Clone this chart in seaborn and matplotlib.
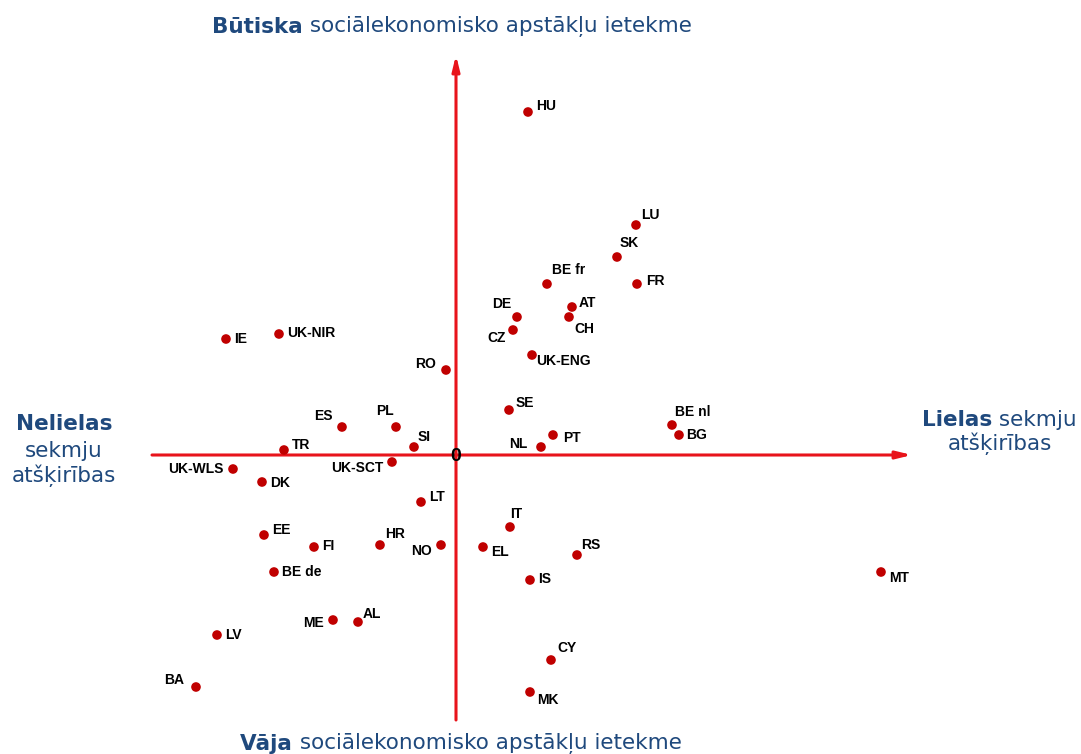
import pandas as pd
import matplotlib.pyplot as plt
import seaborn as sns

# country codes and their position on the two axes
codes = ['HU', 'LU', 'SK', 'BE fr', 'FR', 'AT', 'CH', 'DE', 'CZ', 'UK-ENG',
         'IE', 'UK-NIR', 'RO', 'SE', 'BE nl', 'BG', 'PT', 'NL', 'ES', 'PL',
         'SI', 'TR', 'UK-SCT', 'UK-WLS', 'DK', 'LT', 'IT', 'EE', 'FI', 'HR',
         'NO', 'EL', 'RS', 'IS', 'BE de', 'MT', 'ME', 'AL', 'LV', 'CY',
         'BA', 'MK']
success_gap = [0.72, 1.80, 1.61, 0.91, 1.81, 1.16, 1.13, 0.61, 0.57, 0.76,
               -2.30, -1.77, -0.10, 0.53, 2.16, 2.23, 0.97, 0.85, -1.14, -0.60,
               -0.42, -1.72, -0.64, -2.23, -1.94, -0.35, 0.54, -1.92, -1.42, -0.76,
               -0.15, 0.27, 1.21, 0.74, -1.82, 4.25, -1.23, -0.98, -2.39, 0.95,
               -2.60, 0.74]
ses_impact = [3.43, 2.30, 1.98, 1.71, 1.71, 1.48, 1.38, 1.38, 1.25, 1.00,
              1.16, 1.21, 0.85, 0.45, 0.30, 0.20, 0.20, 0.08, 0.28, 0.28,
              0.08, 0.05, -0.07, -0.14, -0.27, -0.47, -0.72, -0.80, -0.92, -0.90,
              -0.90, -0.92, -1.00, -1.25, -1.17, -1.17, -1.65, -1.67, -1.80, -2.05,
              -2.32, -2.37]

# label placement: offset in pixels from the dot, and alignment
label_dx = [8, 5, 3, 5, 9, 7, 5, -6, -7, 4,
            8, 8, -10, 7, 3, 7, 10, -14, -9, -2,
            4, 8, -9, -10, 8, 8, 0, 8, 8, 5,
            -9, 8, 4, 8, 8, 8, -9, 5, 8, 6,
            -12, 7]
label_dy = [6, 10, 14, 14, 3, 4, -12, 13, -8, -6,
            0, 1, 6, 7, 13, 0, -3, 3, 11, 16,
            10, 5, -6, 0, -1, 5, 13, 5, 1, 11,
            -6, -5, 10, 1, 0, -6, -3, 8, 0, 12,
            7, -8]

df = pd.DataFrame({'code': codes, 'x': success_gap, 'y': ses_impact})

red = '#e8141b'
dot = '#c00000'
blue = '#1f497d'
cap = 15.5

sns.set_style('white')
plt.rcParams['font.family'] = ['DejaVu Sans']

fig = plt.figure(figsize=(10.81, 7.54), dpi=100)
ax = fig.add_axes([0, 0, 1, 1])
ax.set_xlim(-4.56, 6.25)
ax.set_ylim(-2.99, 4.55)
ax.axis('off')

# axes arrows
arrow = dict(arrowstyle='-|>,head_length=0.9,head_width=0.22', color=red, lw=2.2,
             shrinkA=0, shrinkB=0)
ax.annotate('', xy=(4.56, 0), xytext=(-3.04, 0), arrowprops=arrow)
ax.annotate('', xy=(0, 4.00), xytext=(0, -2.65), arrowprops=arrow)
ax.text(0, -0.02, '0', ha='center', va='center', fontsize=14, fontweight='bold',
        family='Liberation Sans', color='black', zorder=6)

sns.scatterplot(data=df, x='x', y='y', ax=ax, color=dot, s=48, edgecolor='none',
                zorder=3, legend=False)

for i, row in df.iterrows():
    dx, dy = label_dx[i], label_dy[i]
    ax.annotate(row['code'], (row['x'], row['y']), xytext=(dx, dy),
                textcoords='offset pixels', ha='right' if dx < 0 else 'left',
                va='center', fontsize=10, fontweight='bold',
                family='Liberation Sans', color='black')


def two_part(x, y, bold, rest, size=cap):
    t = ax.text(x, y, bold, fontsize=size, fontweight='bold', color=blue,
                ha='left', va='baseline', transform=fig.transFigure)
    ax.annotate(rest, xy=(1, 0), xycoords=t, fontsize=size, color=blue,
                ha='left', va='bottom')
    return t


# top and bottom captions
two_part(212 / 1081, 1 - 33 / 754, 'Būtiska', ' sociālekonomisko apstākļu ietekme')
two_part(240 / 1081, 1 - 750 / 754, 'Vāja', ' sociālekonomisko apstākļu ietekme')

# left caption
fig.text(64 / 1081, 1 - 424 / 754, 'Nelielas', fontsize=cap, fontweight='bold',
         color=blue, ha='center', va='center')
fig.text(64 / 1081, 1 - 451 / 754, 'sekmju', fontsize=cap, color=blue,
         ha='center', va='center')
fig.text(64 / 1081, 1 - 476 / 754, 'atšķirības', fontsize=cap, color=blue,
         ha='center', va='center')

# right caption
two_part(922 / 1081, 1 - 426 / 754, 'Lielas', ' sekmju')
fig.text(1000 / 1081, 1 - 444 / 754, 'atšķirības', fontsize=cap, color=blue,
         ha='center', va='center')

plt.savefig('out.png', dpi=100)
